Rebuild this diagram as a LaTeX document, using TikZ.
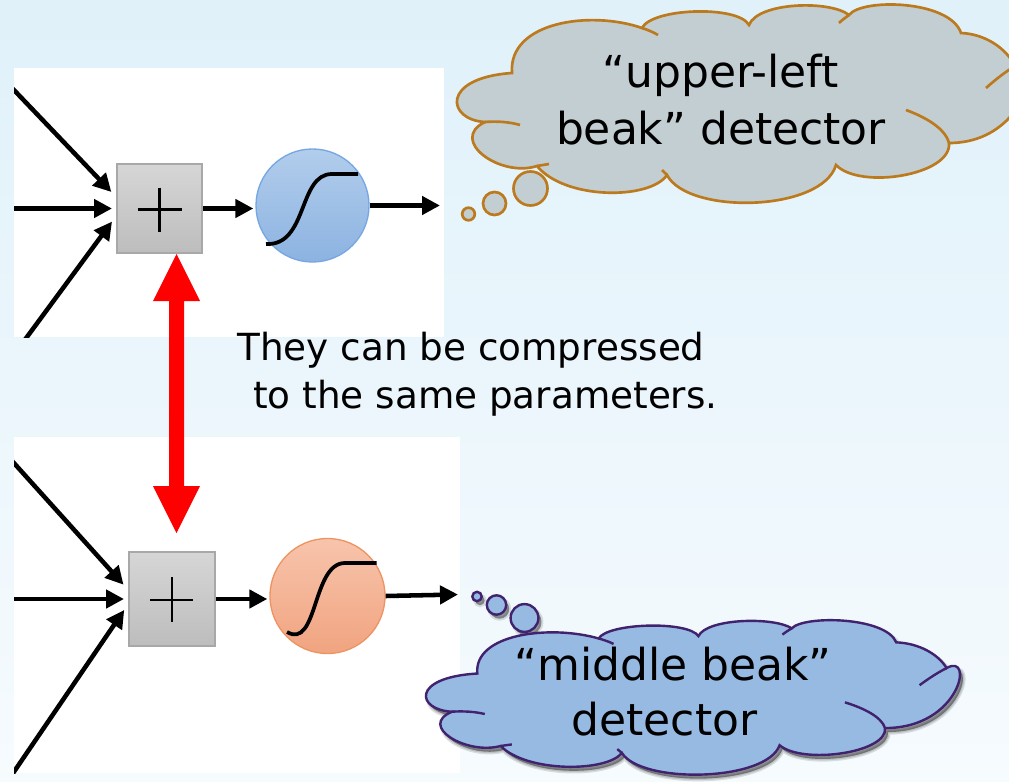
\documentclass[tikz,border=0pt]{standalone}
\usepackage{fontspec}
\setmainfont{DejaVu Sans}
\usetikzlibrary{arrows.meta,calc}

\definecolor{bgtop}{RGB}{224,241,250}
\definecolor{bgbot}{RGB}{246,251,254}
\definecolor{boxtop}{RGB}{214,214,214}
\definecolor{boxbot}{RGB}{189,189,189}
\definecolor{boxline}{RGB}{168,168,168}
\definecolor{bluetop}{RGB}{178,205,236}
\definecolor{bluebot}{RGB}{140,179,225}
\definecolor{blueline}{RGB}{118,167,226}
\definecolor{orgtop}{RGB}{247,196,172}
\definecolor{orgbot}{RGB}{241,164,128}
\definecolor{orgline}{RGB}{238,148,98}
\definecolor{cloudA}{RGB}{195,206,211}
\definecolor{cloudAline}{RGB}{188,122,30}
\definecolor{cloudB}{RGB}{150,186,226}
\definecolor{cloudBline}{RGB}{64,34,110}

% outline of a thought cloud (pixel grid of the upper cloud)
\def\puffpath{(485,122) .. controls (447,120) and (440,78) .. (512,73)
 .. controls (508,22) and (590,10) .. (642,28)
 .. controls (652,8) and (738,5) .. (749,25)
 .. controls (758,2) and (830,0) .. (849,15)
 .. controls (862,-2) and (950,0) .. (961,33)
 .. controls (985,34) and (1006,48) .. (1015,66)
 .. controls (1045,45) and (1030,143) .. (949,143)
 .. controls (952,175) and (860,190) .. (836,165)
 .. controls (822,212) and (688,215) .. (667,175)
 .. controls (650,200) and (565,200) .. (537,166)
 .. controls (500,178) and (448,140) .. (485,122) -- cycle}
% the short inner strokes where the puffs overlap
\def\puffinner{(485,122) .. controls (497,121) and (510,122) .. (520,125)
 (537,166) -- (549,164)
 (642,28) .. controls (648,30) and (653,32) .. (658,35)
 (849,15) .. controls (845,18) and (842,20) .. (839,23)
 (986,88) .. controls (995,80) and (1005,72) .. (1015,66)
 (906,110) .. controls (925,117) and (945,128) .. (949,143)
 (667,175) -- (662,170)}

\tikzset{
  sumbox/.style={draw=boxline, line width=1.5pt, top color=boxtop, bottom color=boxbot, inner sep=0pt},
  actnode/.style={circle, line width=1pt, inner sep=0pt},
  wire/.style={line width=3.4pt, -{Triangle[length=13.5pt,width=13.5pt]}},
  plusmark/.style={line width=1.6pt, black},
  sigmoid/.style={line width=2.8pt, black},
  blockarrow/.style={fill=red},
  cloudtext/.style={font=\fontsize{33pt}{40pt}\selectfont, inner sep=0pt},
  bodytext/.style={font=\fontsize{28pt}{36pt}\selectfont, inner sep=0pt, anchor=base west},
  upperpuff/.style={fill=cloudA, draw=cloudAline, line width=2pt},
  lowerpuff/.style={fill=cloudB, draw=cloudBline, line width=1.8pt},
  softshade/.style={fill=black, fill opacity=0.40},
  softedge/.style={draw=black, draw opacity=0.12}
}

\begin{document}
\begin{tikzpicture}[x=0.75pt,y=-0.75pt]
\useasboundingbox (0,0) rectangle (1009,781);
\clip (0,0) rectangle (1009,781);
\shade[top color=bgtop, bottom color=bgbot] (0,0) rectangle (1009,781);

% white panels behind the two neurons
\fill[white] (14,68) rectangle (444,337);
\fill[white] (14,437) rectangle (460,773);

% ---------- upper neuron ----------
\node[sumbox, minimum width=63.75pt, minimum height=66.75pt] (bx1) at (159.5,208.5) {};
\node[actnode, draw=blueline, top color=bluetop, bottom color=bluebot, minimum size=84.75pt] (sg1) at (312.5,205.5) {};
\coordinate (a1) at (4.4,80);
\coordinate (a2) at (4,208.5);
\coordinate (a3) at (19.6,347);
\coordinate (o1) at (440,205.5);
\begin{scope}
  \clip (14,68) rectangle (444,337);
  \draw[wire, shorten >=5pt] (a1) -- (bx1.165);
  \draw[wire, shorten >=3pt] (a2) -- (bx1.west);
  \draw[wire, shorten >=5pt] (a3) -- (bx1.190);
  \draw[wire, shorten >=1.5pt] (bx1.east) -- (bx1.east -| sg1.west);
  \draw[wire] (sg1.east) -- (o1);
\end{scope}
\begin{scope}[shift={(bx1.center)}]
  \draw[plusmark] (-22,1) -- (22,1);
  \draw[plusmark] (0,-21) -- (0,23);
\end{scope}
\begin{scope}[shift={(sg1.center)}]
  \draw[sigmoid] (-46.5,38.5) .. controls (-4.5,40.5) and (-14.5,-31.5) .. (19.5,-31.5) -- (45.5,-31.5);
\end{scope}

% ---------- lower neuron ----------
\node[sumbox, minimum width=64.5pt, minimum height=70.5pt] (bx2) at (172,599) {};
\node[actnode, draw=orgline, top color=orgtop, bottom color=orgbot, minimum size=86.25pt] (sg2) at (327.5,596) {};
\coordinate (b1) at (4,452);
\coordinate (b2) at (4,599);
\coordinate (b3) at (7,782);
\coordinate (o2) at (458,594.5);
\begin{scope}
  \clip (14,437) rectangle (460,773);
  \draw[wire, shorten >=5pt] (b1) -- (bx2.168);
  \draw[wire, shorten >=3pt] (b2) -- (bx2.west);
  \draw[wire, shorten >=5pt] (b3) -- (bx2.187);
  \draw[wire, shorten >=1.5pt] (bx2.east) -- (bx2.east -| sg2.west);
  \draw[wire] (sg2.east) -- (o2);
\end{scope}
\begin{scope}[shift={(bx2.center)}]
  \draw[plusmark] (-22,1) -- (21,1);
  \draw[plusmark] (0,-22) -- (0,23);
\end{scope}
\begin{scope}[shift={(sg2.center)}]
  \draw[sigmoid] (-40.5,36) .. controls (-9.5,54) and (-15.5,-33) .. (17.5,-33) -- (49,-33);
\end{scope}

% ---------- red double arrow between the two sums ----------
\coordinate (r1) at ($(bx1.south)+(17,0)$);
\coordinate (r2) at (176.5,533);
\fill[blockarrow] (r1) -- ++(23.5,47) -- ++(-16,0) -- ($(r2)+(7.5,-47)$) -- ++(16,0)
  -- (r2) -- ++(-23.5,-47) -- ++(16,0) -- ($(r1)+(-7.5,47)$) -- ++(-16,0) -- cycle;

% ---------- caption ----------
\node[bodytext] (cap1) at (237,360) {They can be compressed};
\node[bodytext] (cap2) at (253,408) {to the same parameters.};

% ---------- upper thought cloud ----------
\path[upperpuff] \puffpath;
\draw[cloudAline, line width=2pt] \puffinner;
\draw[upperpuff] (530.5,188.5) circle[radius=17];
\draw[upperpuff] (494.5,203.5) circle[radius=11.5];
\draw[upperpuff] (468.5,214) circle[radius=6.3];
\node[cloudtext, anchor=base] (ul1) at (720.5,88) {“upper-left};
\node[cloudtext, anchor=base] (ul2) at (721,145) {beak” detector};

% ---------- lower thought cloud ----------
% soft drop shadow, offset down and to the right
\begin{scope}[shift={(3,4)}]
  \begin{scope}[shift={(426,693)}, xscale=0.933, yscale=0.779, shift={(-457,-98)}]
    \path[softshade] \puffpath;
    \path[softedge, line width=4pt] \puffpath;
    \path[softedge, line width=2pt] \puffpath;
  \end{scope}
  \path[softshade] (524.5,618) circle[radius=13.9] (496.5,605) circle[radius=9.7] (477,596.5) circle[radius=4.7];
  \path[softedge, line width=3pt] (524.5,618) circle[radius=13.9] (496.5,605) circle[radius=9.7] (477,596.5) circle[radius=4.7];
\end{scope}
\begin{scope}[shift={(426,693)}, xscale=0.933, yscale=0.779, shift={(-457,-98)}]
  \path[lowerpuff] \puffpath;
  \draw[cloudBline, line width=1.8pt] \puffinner;
\end{scope}
\draw[lowerpuff] (524.5,618) circle[radius=13.9];
\draw[lowerpuff] (496.5,605) circle[radius=9.7];
\draw[lowerpuff] (477,596.5) circle[radius=4.7];
\node[cloudtext, anchor=base] (mb1) at (673,680) {“middle beak”};
\node[cloudtext, anchor=base] (mb2) at (664.5,735) {detector};
\end{tikzpicture}
\end{document}
